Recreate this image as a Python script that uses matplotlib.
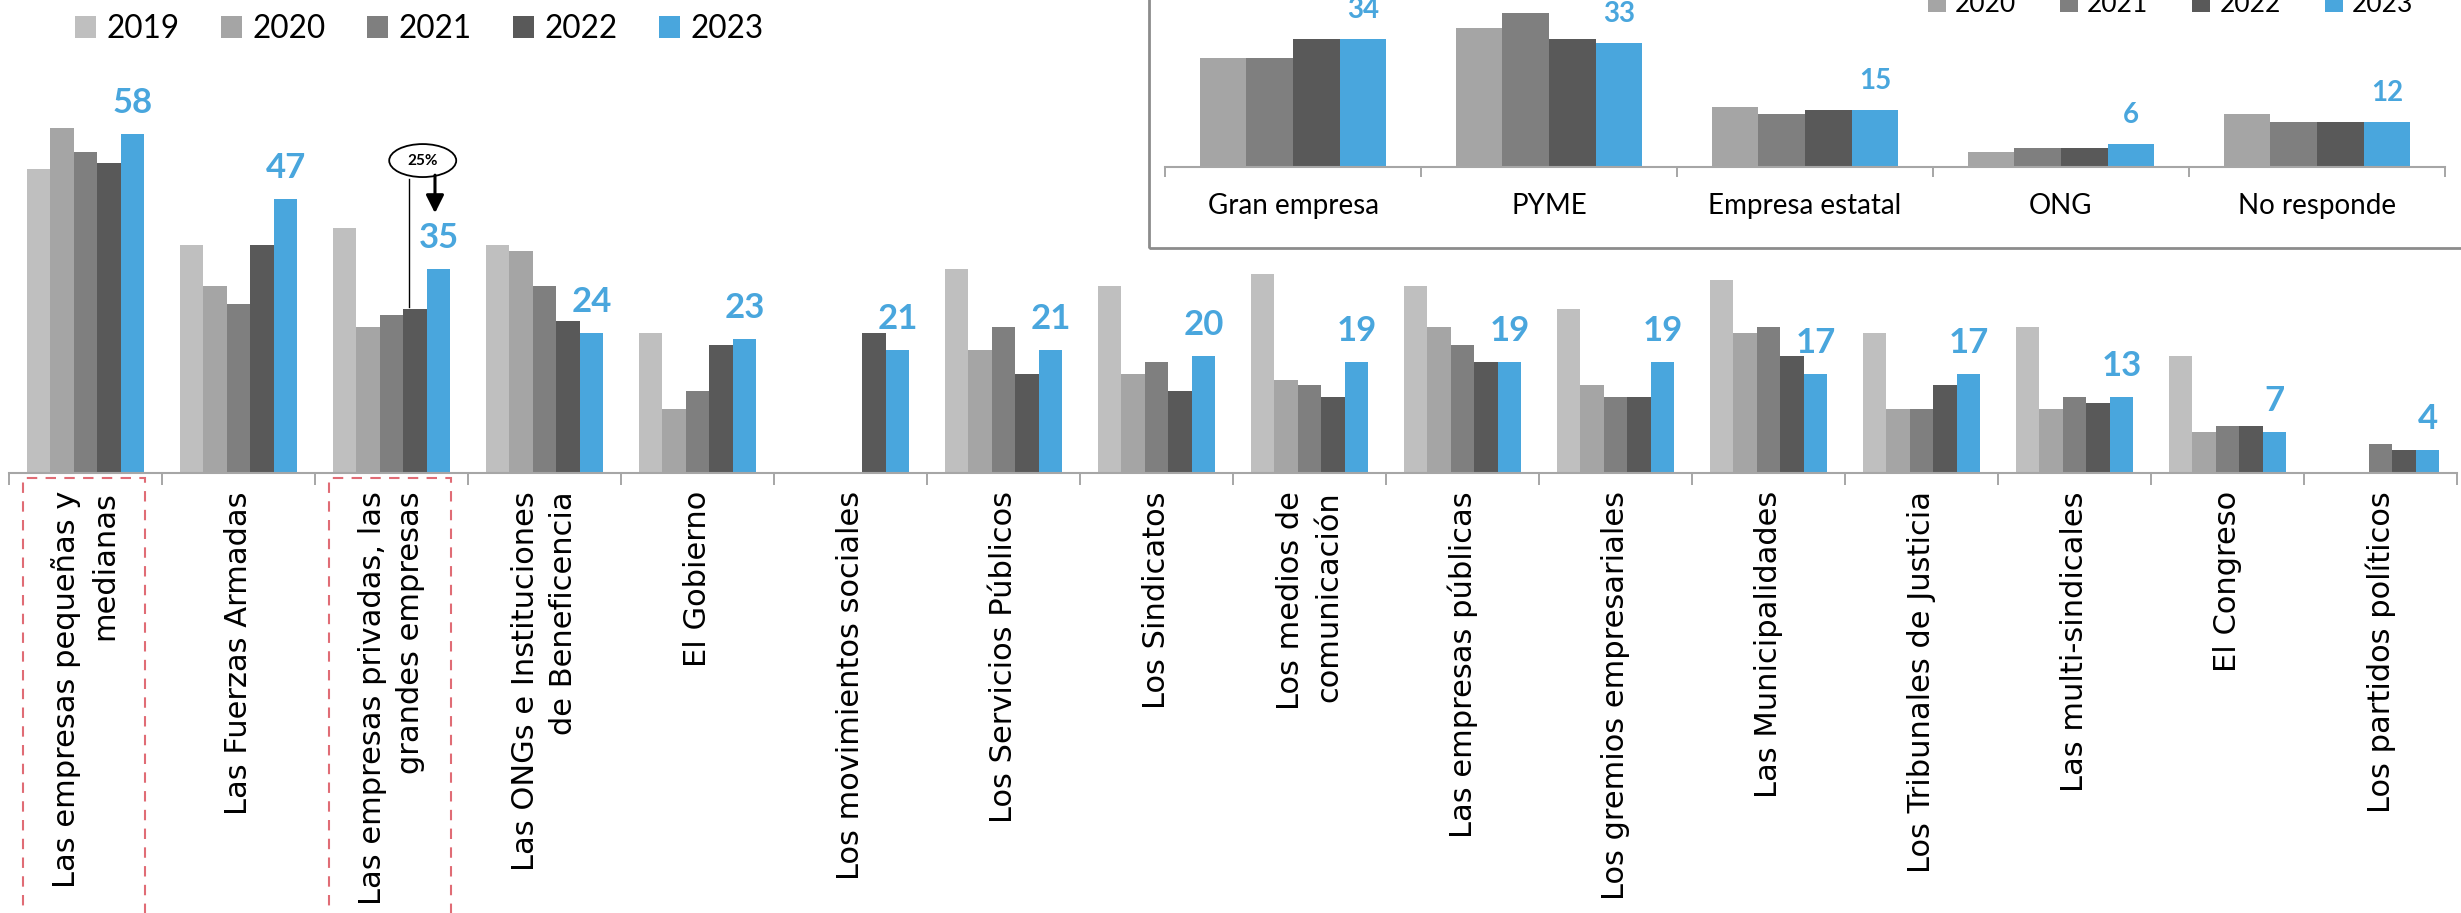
import numpy as np
import matplotlib
matplotlib.use("Agg")
import matplotlib.pyplot as plt
from matplotlib.patches import Rectangle, Ellipse
from matplotlib.transforms import blended_transform_factory, ScaledTranslation

# ---------------- data ----------------
categories = [
    "Las empresas pequeñas y\nmedianas",
    "Las Fuerzas Armadas",
    "Las empresas privadas, las\ngrandes empresas",
    "Las ONGs e Instituciones\nde Beneficencia",
    "El Gobierno",
    "Los movimientos sociales",
    "Los Servicios Públicos",
    "Los Sindicatos",
    "Los medios de\ncomunicación",
    "Las empresas públicas",
    "Los gremios empresariales",
    "Las Municipalidades",
    "Los Tribunales de Justicia",
    "Las multi-sindicales",
    "El Congreso",
    "Los partidos políticos",
]
nan = np.nan
years = ["2019", "2020", "2021", "2022", "2023"]
v2019 = [52, 39, 42, 39, 24, nan, 35, 32, 34, 32, 28, 33, 24, 25, 20, nan]
v2020 = [59, 32, 25, 38, 11, nan, 21, 17, 16, 25, 15, 24, 11, 11, 7, nan]
v2021 = [55, 29, 27, 32, 14, nan, 25, 19, 15, 22, 13, 25, 11, 13, 8, 5]
v2022 = [53, 39, 28, 26, 22, 24, 17, 14, 13, 19, 13, 20, 15, 12, 8, 4]
v2023 = [58, 47, 35, 24, 23, 21, 21, 20, 19, 19, 19, 17, 17, 13, 7, 4]

inset_categories = ["Gran empresa", "PYME", "Empresa estatal", "ONG", "No responde"]
inset_years = ["2020", "2021", "2022", "2023"]
i2020 = [29, 37, 16, 4, 14]
i2021 = [29, 41, 14, 5, 12]
i2022 = [34, 34, 15, 5, 12]
i2023 = [34, 33, 15, 6, 12]

annot_text = "25%"
highlight_groups = [0, 2]

# ---------------- style ----------------
colors = ["#BFBFBF", "#A5A5A5", "#7F7F7F", "#595959", "#49A6DD"]
blue = "#49A6DD"
axis_gray = "#A6A6A6"
calib = ["Lato", "DejaVu Sans"]

W, H, DPI = 2461, 913, 100
fig = plt.figure(figsize=(W / DPI, H / DPI), dpi=DPI)
fig.patch.set_facecolor("white")


def fx(px):
    return px / W


def fy(py):
    return 1 - py / H


# ---------------- main axes ----------------
ax = fig.add_axes([fx(9), fy(473), fx(2457 - 9), 350.4 / H])
ax.set_xlim(-0.5, len(categories) - 0.5)
ax.set_ylim(0, 60)
ax.patch.set_alpha(0)
for s in ["top", "right", "left"]:
    ax.spines[s].set_visible(False)
ax.spines["bottom"].set_color(axis_gray)
ax.spines["bottom"].set_linewidth(1.5)

x = np.arange(len(categories))
bw = 0.1536
series = [v2019, v2020, v2021, v2022, v2023]
for k, (vals, c, yr) in enumerate(zip(series, colors, years)):
    ax.bar(x + (k - 2) * bw, vals, width=bw, color=c, linewidth=0, label=yr)

off = ScaledTranslation(0, 21 / DPI, fig.dpi_scale_trans)
for i, v in enumerate(v2023):
    ax.text(i + 2 * bw, v, f"{v:g}", transform=ax.transData + off,
            ha="center", va="baseline", color=blue, fontsize=25,
            fontweight="bold", family=calib)

ax.set_yticks([])
ax.set_xticks(np.arange(-0.5, len(categories) + 0.5, 1))
ax.set_xticklabels([])
ax.tick_params(axis="x", which="major", length=8.6, width=1.4,
               color=axis_gray, direction="out")
ax.set_xticks(x, minor=True)
ax.set_xticklabels(categories, minor=True, rotation=90, fontsize=22,
                   family="DejaVu Sans", ha="center", va="top",
                   multialignment="right", linespacing=1.4)
ax.tick_params(axis="x", which="minor", length=0, pad=13)

ax.legend(loc="lower left", bbox_to_anchor=(fx(75), fy(44.5)),
          bbox_transform=fig.transFigure, ncol=5, frameon=False,
          prop=dict(family=calib, size=22.7), handlelength=0.667,
          handleheight=0.7, handletextpad=0.317, columnspacing=1.33,
          borderpad=0, borderaxespad=0)

# highlight dashed boxes
bt = blended_transform_factory(ax.transData, ax.transAxes)
for g in highlight_groups:
    ax.add_patch(Rectangle((g - 0.408, -1.6), 0.797, 1.6 - 0.0143,
                           transform=bt, fill=False, edgecolor="#E06C75",
                           linewidth=1.5, linestyle=(0, (5, 4)),
                           clip_on=False))

# callout: 25% ellipse, line to 2022 bar, arrow to 2023 label
g = 2
ax.add_patch(Ellipse((g + 0.204, 53.5), 0.438, 5.65, facecolor="white",
                     edgecolor="black", linewidth=1.3, zorder=5))
ax.text(g + 0.204, 53.5, annot_text, ha="center", va="center", fontsize=11,
        fontweight="bold", family=calib, zorder=6)
ax.plot([g + bw - 0.04, g + bw - 0.04], [50.3, v2022[g] + 0.4],
        color="black", linewidth=1.0, zorder=4)
ax.annotate("", xy=(g + 2 * bw - 0.023, 44.5), xytext=(g + 2 * bw - 0.023, 51.0),
            arrowprops=dict(arrowstyle="-|>,head_length=0.4,head_width=0.2",
                            mutation_scale=27, color="black", lw=2.2,
                            shrinkA=0, shrinkB=0), zorder=6)

# ---------------- inset ----------------
axi = fig.add_axes([fx(1165), fy(166.7), fx(1280), 168.75 / H])
axi.set_xlim(-0.5, len(inset_categories) - 0.5)
axi.set_ylim(0, 45)
axi.patch.set_alpha(0)
for s in ["top", "right", "left"]:
    axi.spines[s].set_visible(False)
axi.spines["bottom"].set_color(axis_gray)
axi.spines["bottom"].set_linewidth(1.5)

xi = np.arange(len(inset_categories))
bwi = 0.182
iseries = [i2020, i2021, i2022, i2023]
for k, (vals, c, yr) in enumerate(zip(iseries, colors[1:], inset_years)):
    axi.bar(xi + (k - 1.5) * bwi, vals, width=bwi, color=c, linewidth=0,
            label=yr)
for i, v in enumerate(i2023):
    axi.text(i + 1.5 * bwi, v, f"{v:g}", transform=axi.transData + off,
             ha="center", va="baseline", color=blue, fontsize=20,
             fontweight="bold", family=calib)

axi.set_yticks([])
axi.set_xticks(np.arange(-0.5, len(inset_categories) + 0.5, 1))
axi.set_xticklabels([])
axi.tick_params(axis="x", which="major", length=7.2, width=1.4,
                color=axis_gray, direction="out")
axi.set_xticks(xi, minor=True)
axi.set_xticklabels(inset_categories, minor=True, fontsize=20, family=calib)
axi.tick_params(axis="x", which="minor", length=0, pad=19)

axi.legend(loc="lower left", bbox_to_anchor=(fx(1928), fy(17)),
           bbox_transform=fig.transFigure, ncol=4, frameon=False,
           prop=dict(family=calib, size=19), handlelength=0.68,
           handleheight=0.68, handletextpad=0.34, columnspacing=1.67,
           borderpad=0, borderaxespad=0)

fig.add_artist(Rectangle((fx(1149), fy(248)), 1, 1, transform=fig.transFigure,
                         fill=False, edgecolor="#8C8C8C", linewidth=2.0))

fig.savefig("out.png", dpi=DPI)
